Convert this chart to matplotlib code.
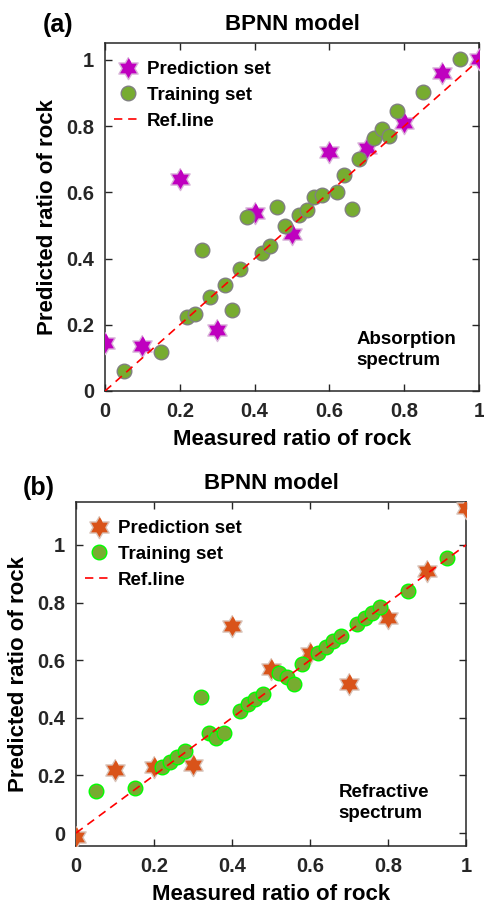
import numpy as np
import matplotlib
matplotlib.use("Agg")
import matplotlib.pyplot as plt
from matplotlib.path import Path
from matplotlib.ticker import FuncFormatter

plt.rcParams['font.family'] = ['Liberation Sans', 'DejaVu Sans']
plt.rcParams['font.weight'] = 'bold'

# ---- data ----
pred_x = [0.0, 0.1, 0.2, 0.3, 0.4, 0.5, 0.6, 0.7, 0.8, 0.9, 1.0]
train_x = [0.05, 0.15, 0.22, 0.24, 0.26, 0.28, 0.32, 0.34, 0.36, 0.38, 0.42, 0.44, 0.46, 0.48,
           0.52, 0.54, 0.56, 0.58, 0.62, 0.64, 0.66, 0.68, 0.72, 0.74, 0.76, 0.78, 0.85, 0.95]

# (a) absorption spectrum
abs_pred_y = [0.144, 0.136, 0.640, 0.184, 0.537, 0.475, 0.723, 0.733, 0.810, 0.960, 1.002]
abs_train_y = [0.060, 0.119, 0.223, 0.233, 0.426, 0.285, 0.320, 0.245, 0.368, 0.525, 0.416, 0.439,
               0.555, 0.498, 0.532, 0.547, 0.587, 0.592, 0.600, 0.653, 0.549, 0.700, 0.763, 0.792,
               0.770, 0.847, 0.902, 1.003]

# (b) refractive spectrum
ref_pred_y = [-0.015, 0.219, 0.228, 0.236, 0.720, 0.571, 0.626, 0.519, 0.745, 0.911, 1.127]
ref_train_y = [0.147, 0.158, 0.228, 0.248, 0.265, 0.285, 0.473, 0.346, 0.329, 0.346, 0.425, 0.447,
               0.464, 0.483, 0.555, 0.543, 0.519, 0.585, 0.626, 0.647, 0.667, 0.685, 0.725, 0.745,
               0.763, 0.783, 0.840, 0.954]

ref_line = [0, 1]
ticks = [0, 0.2, 0.4, 0.6, 0.8, 1]

# hexagram marker (MATLAB 'h')
ang = np.pi / 2 + np.arange(12) * np.pi / 6
rad = np.where(np.arange(12) % 2 == 0, 1.0, 1 / np.sqrt(3))
hexagram = Path(np.column_stack([rad * np.cos(ang), rad * np.sin(ang)]))


def draw_panel(ax, py, ty, star_c, star_ec, circ_ec, ylim, note, note_y, leg_anchor):
    ax.plot(pred_x, py, ls='none', marker=hexagram, ms=16, mfc=star_c, mec=star_ec,
            mew=1.0, label='Prediction set', zorder=3)
    ax.plot(train_x, ty, ls='none', marker='o', ms=10.5, mfc='#77AC30', mec=circ_ec,
            mew=1.0, label='Training set', zorder=4)
    ax.plot(ref_line, ref_line, color='#FF0000', ls=(0, (5, 3.5)), lw=1.2,
            label='Ref.line', zorder=5)
    ax.set_xlim(0, 1)
    ax.set_ylim(*ylim)
    ax.set_xticks(ticks)
    ax.set_yticks(ticks)
    fmt = FuncFormatter(lambda v, p: '%g' % v)
    ax.xaxis.set_major_formatter(fmt)
    ax.yaxis.set_major_formatter(fmt)
    ax.tick_params(direction='in', top=True, right=True, length=5, width=1,
                   labelsize=14.5, colors='#262626', pad=8)
    for s in ax.spines.values():
        s.set_color('#262626')
        s.set_linewidth(1.1)
    ax.set_xlabel('Measured ratio of rock', fontsize=16, fontweight='bold', labelpad=6)
    ax.set_ylabel('Predicted ratio of rock', fontsize=16, fontweight='bold', labelpad=6)
    ax.set_title('BPNN model', fontsize=16, fontweight='bold', pad=9)
    ax.legend(loc='upper left', frameon=False, handlelength=1.45,
              handletextpad=0.3, labelspacing=0.45, borderaxespad=0.3,
              bbox_to_anchor=leg_anchor, prop={'weight': 'bold', 'size': 13.5})
    ax.text(0.673, note_y, note, transform=ax.transAxes, fontsize=13.5,
            fontweight='bold', ha='left', va='center', linespacing=1.3)


fig = plt.figure(figsize=(4.84, 9.11), dpi=100)
ax1 = fig.add_axes([105 / 484, 1 - 391 / 911, 374 / 484, 348 / 911])
ax2 = fig.add_axes([76 / 484, 1 - 846 / 911, 390 / 484, 344 / 911])

draw_panel(ax1, abs_pred_y, abs_train_y, '#BF00BF', '#D9B3D9', '#808080',
           (0, 1.051), 'Absorption\nspectrum', 0.118, (-0.01, 0.985))
draw_panel(ax2, ref_pred_y, ref_train_y, '#D95319', '#D9C3B8', '#00FF00',
           (-0.045, 1.149), 'Refractive\nspectrum', 0.125, (-0.01, 0.985))

fig.text(43 / 484, 1 - 25 / 911, '(a)', fontsize=18, fontweight='bold', ha='left', va='center')
fig.text(23 / 484, 1 - 488 / 911, '(b)', fontsize=18, fontweight='bold', ha='left', va='center')

fig.savefig('out.png', dpi=100)
